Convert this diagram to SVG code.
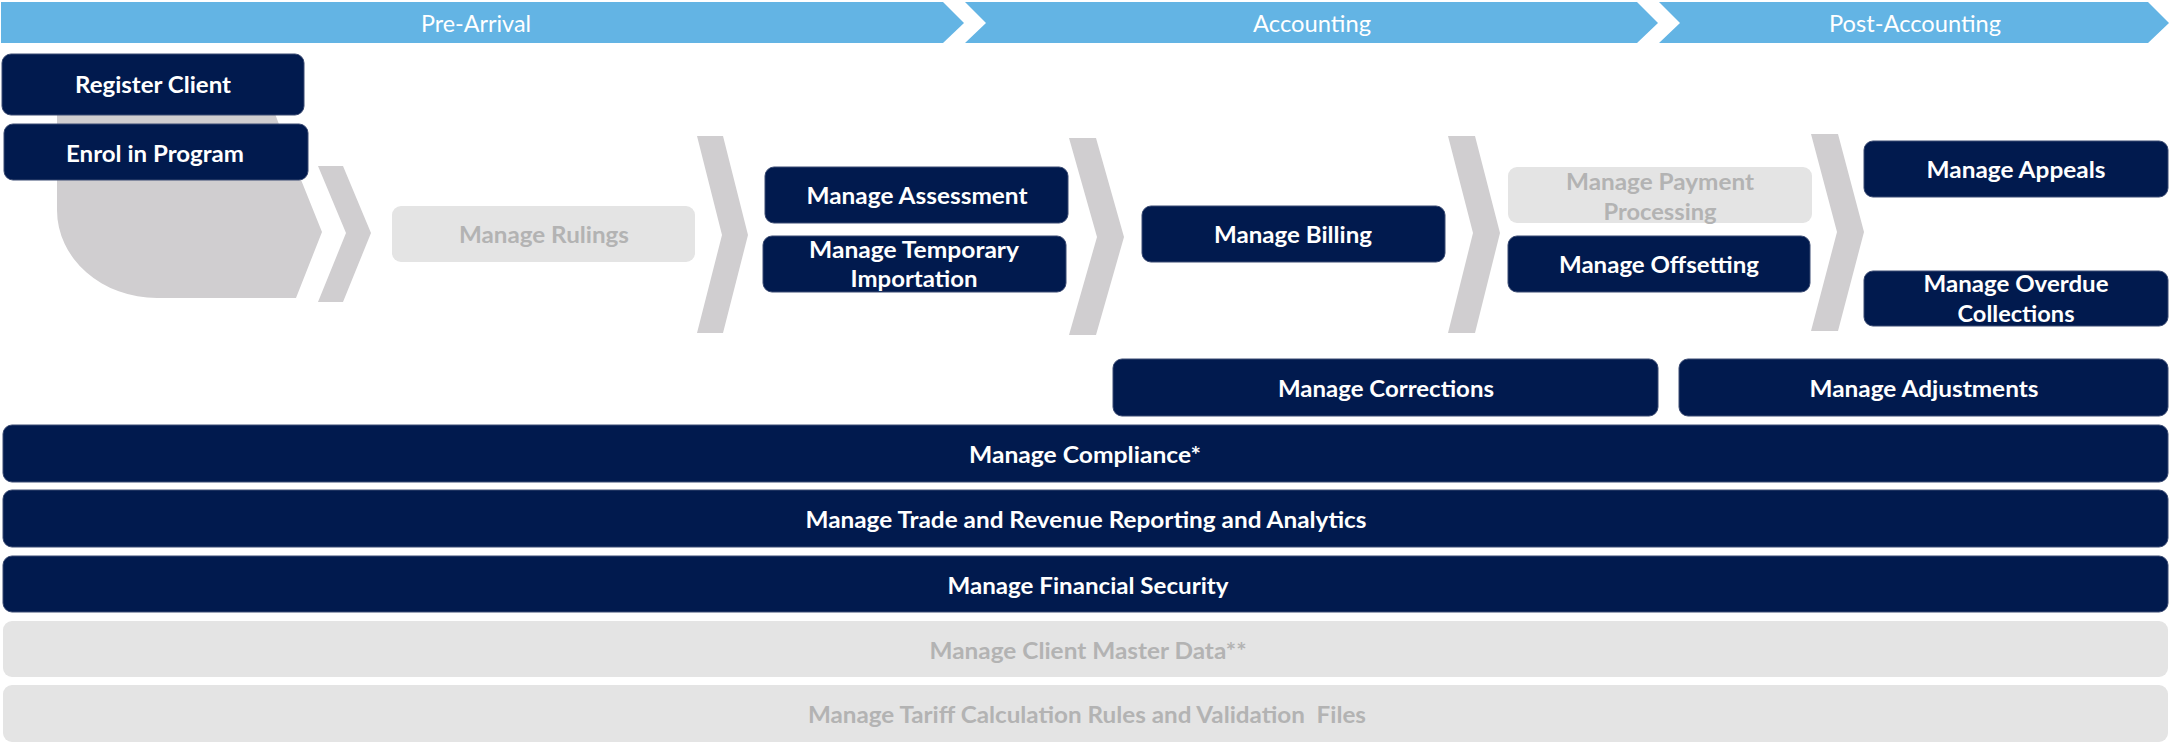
<svg xmlns="http://www.w3.org/2000/svg" width="2170" height="745" viewBox="0 0 2170 745">
<style>
.phase{fill:#63B4E4}
.ph{font-family:Lato,"Open Sans","Liberation Sans",sans-serif;font-weight:400;font-size:24px;fill:#ffffff;text-anchor:middle}
.chev{fill:#D0CED0}
.box{fill:#011A4E;stroke:#3a4a72;stroke-width:1}
.off{fill:#E4E4E4}
.lbl{font-family:Lato,"Open Sans","Liberation Sans",sans-serif;font-weight:700;font-size:22px;fill:#ffffff;text-anchor:middle}
.lbl.g{fill:#B3B3B3}
</style>
<g id="phases">
<polygon class="phase" points="1,2 943,2 964,23 943,43 1,43"/>
<polygon class="phase" points="965,2 1637,2 1658,23 1637,43 965,43 986,23"/>
<polygon class="phase" points="1659,2 2148,2 2169,23 2148,43 1659,43 1680,23"/>
<text class="ph" x="476" y="32" textLength="110" lengthAdjust="spacingAndGlyphs">Pre-Arrival</text>
<text class="ph" x="1312" y="32" textLength="118" lengthAdjust="spacingAndGlyphs">Accounting</text>
<text class="ph" x="1915" y="32" textLength="172" lengthAdjust="spacingAndGlyphs">Post-Accounting</text>
</g>
<g id="connectors">
<path class="chev" d="M57,95 H268 L283,135 L322,232 L296,298 H157 A100,88 0 0 1 57,210 Z"/>
<polygon class="chev" points="318,166 343,166 371,233 343,302 318,302 346,233"/>
<polygon class="chev" points="697,136 723,136 748,235 723,333 697,333 722,235"/>
<polygon class="chev" points="1069,138 1096,138 1124,237 1096,335 1069,335 1097,237"/>
<polygon class="chev" points="1448,136 1475,136 1500,233 1475,333 1448,333 1473,233"/>
<polygon class="chev" points="1811,134 1838,134 1864,232 1838,331 1811,331 1837,232"/>
</g>
<g id="register-client"><rect class="box" x="2" y="54" width="302" height="61" rx="9"/><text class="lbl" x="153" y="93" textLength="156" lengthAdjust="spacingAndGlyphs">Register Client</text></g>
<g id="enrol-in-program"><rect class="box" x="4" y="124" width="304" height="56" rx="9"/><text class="lbl" x="155" y="162" textLength="178" lengthAdjust="spacingAndGlyphs">Enrol in Program</text></g>
<g id="manage-rulings"><rect class="off" x="392" y="206" width="303" height="56" rx="9"/><text class="lbl g" x="544" y="243" textLength="170" lengthAdjust="spacingAndGlyphs">Manage Rulings</text></g>
<g id="manage-assessment"><rect class="box" x="765" y="167" width="303" height="56" rx="9"/><text class="lbl" x="917" y="204" textLength="221" lengthAdjust="spacingAndGlyphs">Manage Assessment</text></g>
<g id="manage-temporary-importation"><rect class="box" x="763" y="236" width="303" height="56" rx="9"/><text class="lbl" x="914" y="258" textLength="210" lengthAdjust="spacingAndGlyphs">Manage Temporary</text><text class="lbl" x="914" y="287" textLength="127" lengthAdjust="spacingAndGlyphs">Importation</text></g>
<g id="manage-billing"><rect class="box" x="1142" y="206" width="303" height="56" rx="9"/><text class="lbl" x="1293" y="243" textLength="158" lengthAdjust="spacingAndGlyphs">Manage Billing</text></g>
<g id="manage-payment-processing"><rect class="off" x="1508" y="167" width="304" height="56" rx="9"/><text class="lbl g" x="1660" y="190" textLength="188" lengthAdjust="spacingAndGlyphs">Manage Payment</text><text class="lbl g" x="1660" y="220" textLength="113" lengthAdjust="spacingAndGlyphs">Processing</text></g>
<g id="manage-offsetting"><rect class="box" x="1508" y="236" width="302" height="56" rx="9"/><text class="lbl" x="1659" y="273" textLength="200" lengthAdjust="spacingAndGlyphs">Manage Offsetting</text></g>
<g id="manage-appeals"><rect class="box" x="1864" y="141" width="304" height="56" rx="9"/><text class="lbl" x="2016" y="178" textLength="179" lengthAdjust="spacingAndGlyphs">Manage Appeals</text></g>
<g id="manage-overdue-collections"><rect class="box" x="1864" y="271" width="304" height="55" rx="9"/><text class="lbl" x="2016" y="292" textLength="185" lengthAdjust="spacingAndGlyphs">Manage Overdue</text><text class="lbl" x="2016" y="322" textLength="117" lengthAdjust="spacingAndGlyphs">Collections</text></g>
<g id="manage-corrections"><rect class="box" x="1113" y="359" width="545" height="57" rx="9"/><text class="lbl" x="1386" y="397" textLength="216" lengthAdjust="spacingAndGlyphs">Manage Corrections</text></g>
<g id="manage-adjustments"><rect class="box" x="1679" y="359" width="489" height="57" rx="9"/><text class="lbl" x="1924" y="397" textLength="229" lengthAdjust="spacingAndGlyphs">Manage Adjustments</text></g>
<g id="manage-compliance"><rect class="box" x="3" y="425" width="2165" height="57" rx="9"/><text class="lbl" x="1085" y="463" textLength="232" lengthAdjust="spacingAndGlyphs">Manage Compliance*</text></g>
<g id="manage-trade-revenue"><rect class="box" x="3" y="490" width="2165" height="57" rx="9"/><text class="lbl" x="1086" y="528" textLength="561" lengthAdjust="spacingAndGlyphs">Manage Trade and Revenue Reporting and Analytics</text></g>
<g id="manage-financial-security"><rect class="box" x="3" y="556" width="2165" height="56" rx="9"/><text class="lbl" x="1088" y="594" textLength="281" lengthAdjust="spacingAndGlyphs">Manage Financial Security</text></g>
<g id="manage-client-master-data"><rect class="off" x="3" y="621" width="2165" height="56" rx="9"/><text class="lbl g" x="1088" y="659" textLength="317" lengthAdjust="spacingAndGlyphs">Manage Client Master Data**</text></g>
<g id="manage-tariff-rules"><rect class="off" x="3" y="685" width="2165" height="57" rx="9"/><text class="lbl g" x="1087" y="723" textLength="558" lengthAdjust="spacingAndGlyphs" xml:space="preserve">Manage Tariff Calculation Rules and Validation  Files</text></g>
</svg>
